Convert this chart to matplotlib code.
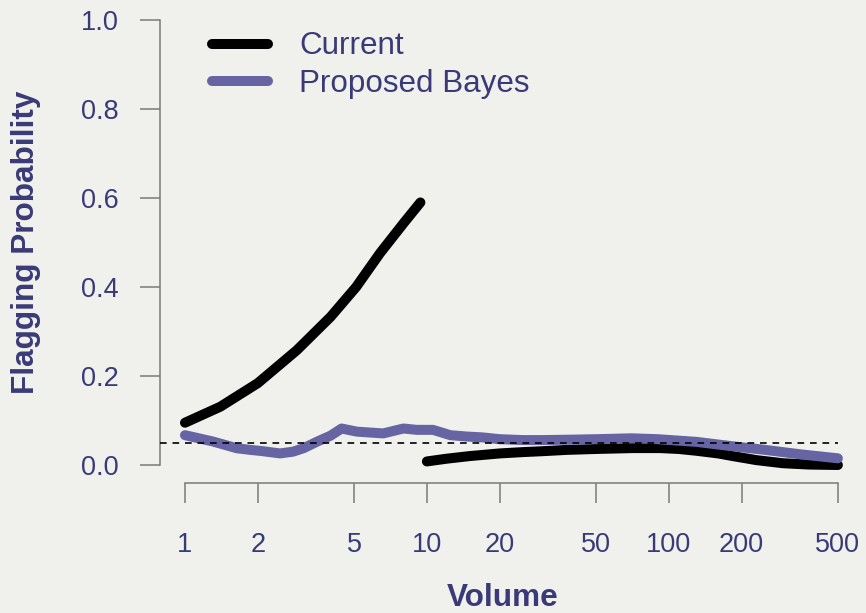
import matplotlib
matplotlib.use("Agg")
import matplotlib.pyplot as plt

plt.rcParams['font.family'] = ['Liberation Sans', 'DejaVu Sans']

# ---- data ----
current_low_x = [1, 1.4, 2.0, 2.9, 4.0, 5.1, 6.4, 8.0, 9.4]
current_low_y = [0.095, 0.131, 0.184, 0.258, 0.333, 0.400, 0.476, 0.543, 0.590]

current_high_x = [10, 12, 15, 20, 25, 30, 38, 50, 71, 92, 110, 130, 160, 184, 230, 296, 380, 500]
current_high_y = [0.008, 0.014, 0.020, 0.026, 0.029, 0.031, 0.034, 0.036, 0.038, 0.038,
                  0.036, 0.032, 0.026, 0.020, 0.011, 0.004, 0.001, 0.0]

bayes_x = [1, 1.3, 1.64, 1.86, 2.1, 2.47, 2.8, 3.1, 3.5, 4.0, 4.44, 5.13, 5.8, 6.6, 8.0,
           9.07, 10.6, 12.5, 14.6, 17, 20, 25, 30, 40, 50, 70, 90, 130, 184, 250, 350, 500]
bayes_y = [0.067, 0.053, 0.0375, 0.034, 0.031, 0.026, 0.030, 0.038, 0.052, 0.066, 0.082,
           0.075, 0.073, 0.071, 0.082, 0.079, 0.079, 0.067, 0.064, 0.062, 0.058, 0.056,
           0.056, 0.057, 0.058, 0.060, 0.058, 0.052, 0.042, 0.034, 0.024, 0.015]

threshold = 0.05
x_ticks = [1, 2, 5, 10, 20, 50, 100, 200, 500]
x_tick_labels = ["1", "2", "5", "10", "20", "50", "100", "200", "500"]
y_ticks = [0.0, 0.2, 0.4, 0.6, 0.8, 1.0]
y_tick_labels = ["0.0", "0.2", "0.4", "0.6", "0.8", "1.0"]
series_labels = ["Current", "Proposed Bayes"]

# ---- style ----
bg = '#f0f0ec'
navy = '#3a3a78'
purple = '#6664a2'
axis_gray = '#7a7a7a'

W, H = 866, 613
fig = plt.figure(figsize=(W / 100, H / 100), dpi=100, facecolor=bg)
ax = fig.add_axes([160 / W, 1 - 482.8 / H, 704 / W, 480.6 / H])
ax.set_facecolor(bg)
ax.set_xscale('log')
xmin, xmax = 10 ** (-0.1033), 10 ** 2.807
ax.set_xlim(xmin, xmax)
ax.set_ylim(-0.04, 1.04)

lw = 7.2
ax.plot(current_low_x, current_low_y, color='black', lw=lw,
        solid_capstyle='round', solid_joinstyle='round', label=series_labels[0])
ax.plot(current_high_x, current_high_y, color='black', lw=lw,
        solid_capstyle='round', solid_joinstyle='round')
ax.plot(bayes_x, bayes_y, color=purple, lw=lw,
        solid_capstyle='round', solid_joinstyle='round', label=series_labels[1])
ax.hlines(threshold, xmin, 500, colors='black', linestyles=(0, (4, 3.5)), lw=1.2, zorder=3)

for s in ['top', 'right']:
    ax.spines[s].set_visible(False)
ax.spines['left'].set_bounds(0, 1)
ax.spines['bottom'].set_bounds(1, 500)
for s in ['left', 'bottom']:
    ax.spines[s].set_color(axis_gray)
    ax.spines[s].set_linewidth(1.1)

ax.set_xticks(x_ticks)
ax.set_xticklabels(x_tick_labels)
ax.xaxis.set_minor_locator(matplotlib.ticker.NullLocator())
ax.set_yticks(y_ticks)
ax.set_yticklabels(y_tick_labels)
ax.tick_params(axis='both', direction='out', length=14.4, width=1.1, color=axis_gray,
               labelcolor=navy, labelsize=19.5)
ax.tick_params(axis='x', pad=21)
ax.tick_params(axis='y', pad=15.5)

ax.set_xlabel("Volume", fontsize=22.7, fontweight='bold', color=navy)
ax.set_ylabel("Flagging Probability", fontsize=22.7, fontweight='bold', color=navy)
ax.xaxis.label.set_va('center')
ax.xaxis.set_label_coords(0.4865, -0.2395)
ax.yaxis.label.set_va('center')
ax.yaxis.set_label_coords(-0.190, 0.5)

leg = ax.legend(loc='upper left', bbox_to_anchor=(211.5 / W, 1 - 31.5 / H),
                bbox_transform=fig.transFigure, frameon=False, fontsize=22.6,
                handlelength=1.79, handletextpad=1.0, labelspacing=0.23,
                borderpad=0, borderaxespad=0)
for t in leg.get_texts():
    t.set_color(navy)

fig.savefig("out.png", dpi=100, facecolor=bg)
